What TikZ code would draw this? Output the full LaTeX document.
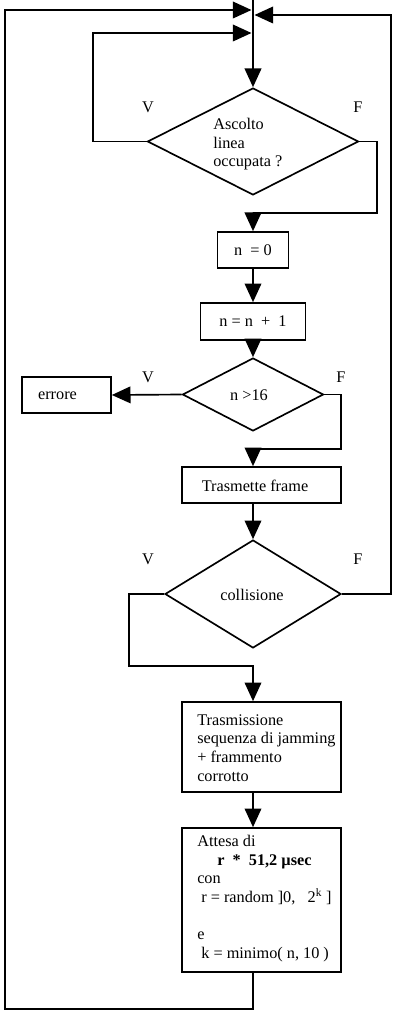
\documentclass[tikz,border=0pt]{standalone}
\usepackage{fontspec}
\setmainfont{Liberation Serif}
\usetikzlibrary{arrows.meta,shapes.geometric}
\begin{document}
\begin{tikzpicture}[x=0.75pt,y=-0.75pt,
  every node/.style={font=\fontsize{12.2}{14}\selectfont},
  flow/.style={line width=1.25pt, -{Triangle[length=14pt,width=12.5pt]}},
  box/.style={draw, line width=1.25pt, rectangle, inner sep=0pt},
  dec/.style={draw, line width=1.25pt, diamond, inner sep=0pt},
  txt/.style={inner sep=0pt}]
\useasboundingbox (0,0) rectangle (401,1016);

% nodes
\node[dec, minimum width=158.25pt, minimum height=80.25pt] (d1) at (253,141.5) {};
\node[txt, anchor=north west, align=left] (t1) at (213,118) {Ascolto\\linea\\occupata ?};
\node[box, minimum width=53.25pt, minimum height=27pt] (b0) at (253,250) {n\ \ = 0};
\node[box, minimum width=78.75pt, minimum height=27.75pt] (b1) at (253,321.5) {n = n\ \ +\ \ 1};
\node[dec, minimum width=105.75pt, minimum height=54.75pt] (d2) at (253,394.5) {};
\node[txt] (t2) at (249,395) {n >16};
\node[box, minimum width=66.75pt, minimum height=27pt] (err) at (66.5,395) {};
\node[txt] (terr) at (57.5,396) {errore};
\node[box, minimum width=119.25pt, minimum height=27pt] (b2) at (261.5,485) {};
\node[txt] (t3) at (255,486) {Trasmette frame};
\node[dec, minimum width=132pt, minimum height=81pt] (d3) at (253,594) {};
\node[txt] (t4) at (252,595) {collisione};
\node[box, minimum width=119.25pt, minimum height=67.5pt] (b3) at (261.5,747) {};
\node[txt, anchor=north west, align=left] (t5) at (197,714) {Trasmissione\\sequenza di jamming\\+ frammento\\corrotto};
\node[box, minimum width=119.25pt, minimum height=108pt] (b4) at (261.5,900) {};
\node[txt, anchor=north west, align=left] (t6) at (197,835) {Attesa di\\\hspace*{15pt}\textbf{r\ \ *\ \ 51,2 µsec}\\con\\\ r = random ]0,\ \ \ 2\textsuperscript{k} ]\\[14pt]e\\\ k = minimo( n, 10 )};

% labels
\node[txt] (v1) at (148,107) {V};
\node[txt] (f1) at (358,107) {F};
\node[txt] (v2) at (148,377) {V};
\node[txt] (f2) at (341,377) {F};
\node[txt] (v3) at (148,559) {V};
\node[txt] (f3) at (358,559) {F};

% coordinates
\coordinate (top) at (253,0);
\coordinate (inL) at (251.5,10);
\coordinate (inV) at (251.5,33);
\coordinate (inR) at (254.5,15);

% connectors
\draw[flow] (top) -- (d1.north);
\draw[flow] (b4.south -| d1.north) -- (253,1009) -| (5,10) -- (inL);
\draw[flow] (d1.west) -- (93,141.5) |- (inV);
\draw[flow] (d3.east) -- (391,594) |- (inR);
\draw[flow] (d1.east) -- (377,141.5) |- (253,213) -- (b0.north);
\draw[flow] (b0.south) -- (b1.north);
\draw[flow] (b1.south) -- (d2.north);
\draw[flow] (d2.west) -- (err.east);
\draw[flow] (d2.east) -- (341,394.5) |- (253,449) -- (b2.north -| d2.north);
\draw[flow] (b2.south -| d3.north) -- (d3.north);
\draw[flow] (d3.west) -- (129,594) |- (253,666) -- (b3.north -| d3.north);
\draw[flow] (b3.south -| d3.north) -- (b4.north -| d3.north);
\end{tikzpicture}
\end{document}
